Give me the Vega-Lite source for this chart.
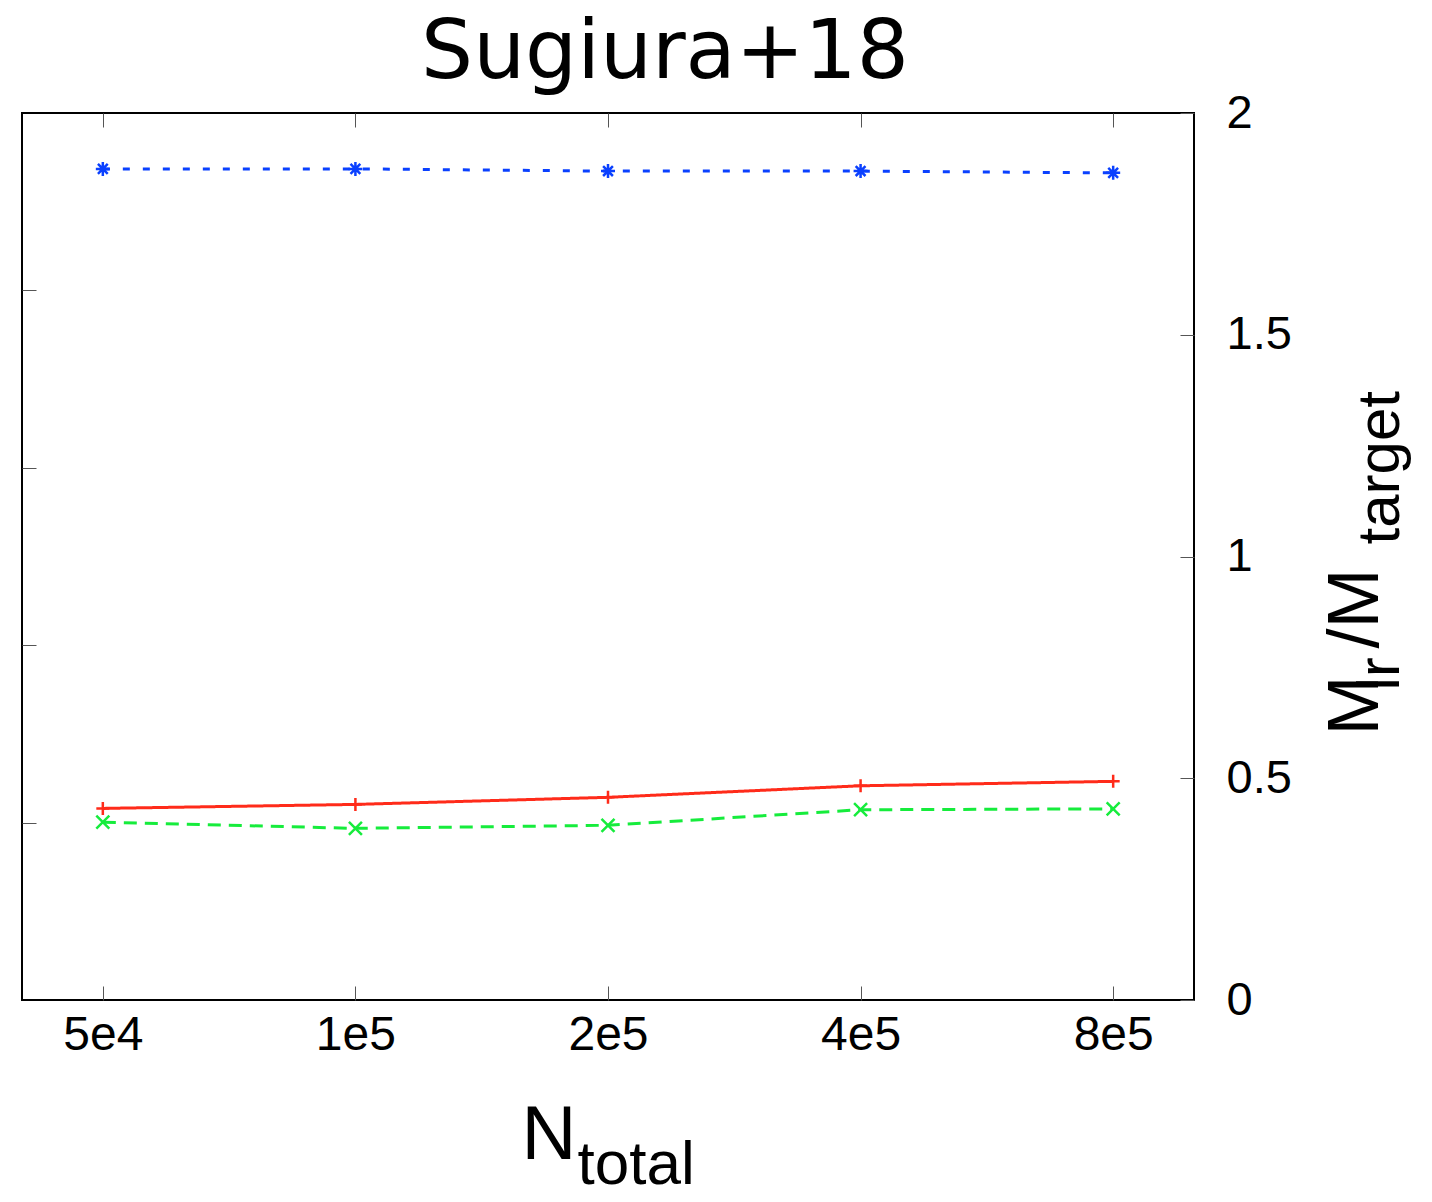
{
  "$schema": "https://vega.github.io/schema/vega-lite/v6.json",
  "width": 1172,
  "height": 887,
  "autosize": {"type": "none"},
  "padding": {"left": 22, "top": 113, "right": 238, "bottom": 202},
  "background": "#ffffff",
  "config": {
    "view": {"stroke": "#000000", "strokeWidth": 2},
    "axis": {
      "labelFont": "Liberation Sans",
      "titleFont": "Liberation Sans",
      "grid": false,
      "titleFontWeight": "normal",
      "titleColor": "#000000",
      "labelColor": "#000000",
      "tickColor": "#555555",
      "tickWidth": 1,
      "labelOverlap": false,
      "labelFlush": false,
      "labelBound": false
    }
  },
  "title": {
    "text": "Sugiura+18",
    "font": "DejaVu Sans",
    "fontSize": 82,
    "fontWeight": "normal",
    "color": "#000000",
    "anchor": "middle",
    "frame": "group",
    "dx": 57,
    "baseline": "alphabetic",
    "offset": -71
  },
  "data": {
    "values": [
      {"N": "5e4", "series": "red", "value": 0.432},
      {"N": "1e5", "series": "red", "value": 0.441},
      {"N": "2e5", "series": "red", "value": 0.457},
      {"N": "4e5", "series": "red", "value": 0.483},
      {"N": "8e5", "series": "red", "value": 0.493},
      {"N": "5e4", "series": "green", "value": 0.401},
      {"N": "1e5", "series": "green", "value": 0.387},
      {"N": "2e5", "series": "green", "value": 0.394},
      {"N": "4e5", "series": "green", "value": 0.429},
      {"N": "8e5", "series": "green", "value": 0.431},
      {"N": "5e4", "series": "blue", "value": 1.874},
      {"N": "1e5", "series": "blue", "value": 1.874},
      {"N": "2e5", "series": "blue", "value": 1.869},
      {"N": "4e5", "series": "blue", "value": 1.869},
      {"N": "8e5", "series": "blue", "value": 1.865}
    ]
  },
  "resolve": {"axis": {"x": "independent", "y": "independent"}},
  "layer": [
    {
      "mark": {"type": "line", "strokeWidth": 3},
      "encoding": {
        "x": {
          "field": "N", "type": "ordinal", "sort": null,
          "scale": {"type": "point", "domain": ["5e4", "1e5", "2e5", "4e5", "8e5"], "padding": 0.32},
          "axis": {
            "orient": "bottom", "offset": -14, "tickSize": 14, "domain": false,
            "labelAngle": 0, "labelFontSize": 48, "labelBaseline": "alphabetic", "labelPadding": 49,
            "title": "N", "titleFontSize": 76, "titleX": 499, "titleY": 172,
            "titleAlign": "left", "titleBaseline": "alphabetic", "titleAngle": 0
          }
        },
        "y": {
          "field": "value", "type": "quantitative",
          "scale": {"domain": [0, 2], "nice": false, "zero": true},
          "axis": {
            "orient": "right", "offset": -14, "tickSize": 14, "domain": false,
            "values": [0, 0.5, 1, 1.5, 2], "format": "~g",
            "labelFontSize": 47, "labelPadding": 32, "labelAlign": "left", "labelBaseline": "middle",
            "title": "M", "titleFontSize": 72, "titleAngle": 270, "titleX": 197, "titleY": 622,
            "titleAlign": "left", "titleBaseline": "alphabetic"
          }
        },
        "color": {
          "field": "series", "type": "nominal",
          "scale": {"domain": ["red", "green", "blue"], "range": ["#ff2b1a", "#16ec3c", "#0a40ff"]},
          "legend": null
        },
        "strokeDash": {
          "field": "series", "type": "nominal",
          "scale": {"domain": ["red", "green", "blue"], "range": [[1, 0], [13, 8], [7, 13]]},
          "legend": null
        }
      }
    },
    {
      "transform": [{"filter": "datum.series === 'red'"}],
      "mark": {"type": "point", "shape": "M-1,0H1M0,-1V1", "filled": false, "size": 169, "strokeWidth": 2.5, "color": "#ff2b1a", "opacity": 1},
      "encoding": {
        "x": {
          "field": "N", "type": "ordinal", "sort": null,
          "axis": {"orient": "top", "offset": -14, "tickSize": 14, "domain": false, "labels": false, "title": null}
        },
        "y": {
          "field": "value", "type": "quantitative",
          "axis": {
            "orient": "left", "offset": -14, "tickSize": 14, "domain": false, "labels": false,
            "values": [0.4, 0.8, 1.2, 1.6],
            "title": "target", "titleFontSize": 60, "titleAngle": 270, "titleX": 1362, "titleY": 431,
            "titleAlign": "left", "titleBaseline": "alphabetic"
          }
        }
      }
    },
    {
      "transform": [{"filter": "datum.series === 'green'"}],
      "mark": {"type": "point", "shape": "M-1,-1L1,1M-1,1L1,-1", "filled": false, "size": 169, "strokeWidth": 2.5, "color": "#16ec3c", "opacity": 1},
      "encoding": {
        "x": {
          "field": "N", "type": "ordinal", "sort": null,
          "axis": {"orient": "bottom", "offset": 0, "ticks": false, "domain": false, "labels": false,
            "title": "total", "titleFontSize": 62, "titleX": 555, "titleY": 183,
            "titleAlign": "left", "titleBaseline": "alphabetic", "titleAngle": 0}
        },
        "y": {
          "field": "value", "type": "quantitative",
          "axis": {"orient": "right", "offset": 0, "ticks": false, "domain": false, "labels": false,
            "title": "lr", "titleFontSize": 60, "titleAngle": 270, "titleX": 204, "titleY": 577,
            "titleAlign": "left", "titleBaseline": "alphabetic"}
        }
      }
    },
    {
      "transform": [{"filter": "datum.series === 'blue'"}],
      "mark": {"type": "point", "shape": "M-1,0H1M0,-1V1M-0.7,-0.7L0.7,0.7M-0.7,0.7L0.7,-0.7", "filled": false, "size": 196, "strokeWidth": 2.5, "color": "#0a40ff", "opacity": 1},
      "encoding": {
        "x": {"field": "N", "type": "ordinal", "sort": null, "axis": null},
        "y": {
          "field": "value", "type": "quantitative",
          "axis": {"orient": "right", "offset": 0, "ticks": false, "domain": false, "labels": false,
            "title": "/M", "titleFontSize": 72, "titleAngle": 270, "titleX": 183, "titleY": 535,
            "titleAlign": "left", "titleBaseline": "alphabetic"}
        }
      }
    }
  ]
}
